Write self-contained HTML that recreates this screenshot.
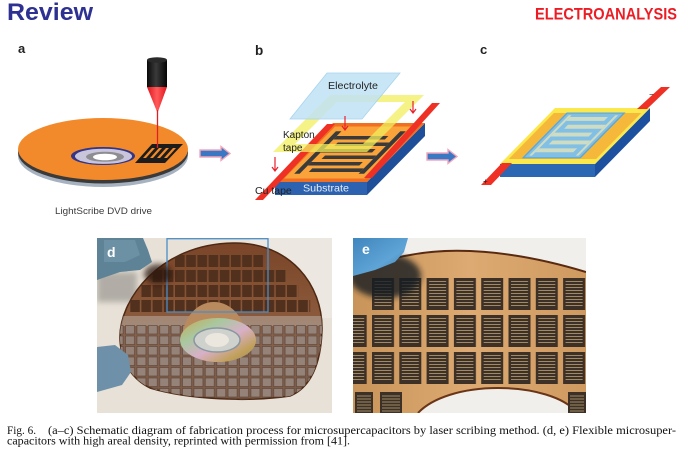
<!DOCTYPE html>
<html><head><meta charset="utf-8"><style>
html,body{margin:0;padding:0;background:#fff;}
svg{display:block;}
</style></head><body>
<svg xmlns="http://www.w3.org/2000/svg" width="680" height="457" viewBox="0 0 680 457">
<defs>
  <linearGradient id="cyl" x1="0" x2="1" y1="0" y2="0">
    <stop offset="0" stop-color="#0a0a0a"/><stop offset="0.45" stop-color="#3a3a3a"/><stop offset="1" stop-color="#050505"/>
  </linearGradient>
  <linearGradient id="cone" x1="0" x2="1">
    <stop offset="0" stop-color="#e0141c"/><stop offset="0.5" stop-color="#ff5a5a"/><stop offset="1" stop-color="#e0141c"/>
  </linearGradient>
  <linearGradient id="sheetD" x1="0" x2="0" y1="0" y2="1">
    <stop offset="0" stop-color="#7a4528"/><stop offset="0.45" stop-color="#8a583a"/><stop offset="0.6" stop-color="#84624f"/><stop offset="1" stop-color="#7a5a48"/>
  </linearGradient>
  <linearGradient id="hub" x1="0" x2="1" y1="0" y2="1">
    <stop offset="0" stop-color="#c8a850"/><stop offset="0.3" stop-color="#a8c8a0"/><stop offset="0.55" stop-color="#d8b0c8"/><stop offset="0.8" stop-color="#c0a058"/><stop offset="1" stop-color="#9a8a70"/>
  </linearGradient>
  <linearGradient id="sheetE" x1="0" x2="1" y1="0" y2="0">
    <stop offset="0" stop-color="#c99459"/><stop offset="0.5" stop-color="#dcaa72"/><stop offset="1" stop-color="#cf9a60"/>
  </linearGradient>
  <linearGradient id="gloveE" x1="0" x2="1" y1="0" y2="1">
    <stop offset="0" stop-color="#3f86bd"/><stop offset="0.6" stop-color="#5fa4d6"/><stop offset="1" stop-color="#3a78a8"/>
  </linearGradient>
  <filter id="blur3" x="-50%" y="-50%" width="200%" height="200%"><feGaussianBlur stdDeviation="3"/></filter>
  <clipPath id="clipD"><rect x="97" y="238" width="235" height="175"/></clipPath>
  <clipPath id="clipE"><rect x="353" y="238" width="233" height="175"/></clipPath>
  <clipPath id="sheetClipD"><path d="M120,340 C118,300 160,244 233,243 C290,242 323,285 322,330 C321,365 310,388 290,396 C250,402 190,400 150,388 C130,378 121,360 120,340 Z"/></clipPath>
  <pattern id="pdU" patternUnits="userSpaceOnUse" x="175" y="255" width="11.2" height="15">
    <rect x="0" y="0" width="9.6" height="12" fill="#52301e"/>
  </pattern>
  <pattern id="pdL" patternUnits="userSpaceOnUse" x="125" y="325" width="11.4" height="10.5">
    <rect x="0.5" y="0.5" width="9" height="8.5" fill="#958278" stroke="#5a4234" stroke-width="0.6"/>
  </pattern>
  <pattern id="peR" patternUnits="userSpaceOnUse" x="344.7" y="278" width="27.3" height="37">
    <rect x="0" y="0" width="22" height="32" fill="#3d3127"/>
    <path d="M2.5 3.5H19.5M2.5 6.5H19.5M2.5 9.5H19.5M2.5 12.5H19.5M2.5 15.5H19.5M2.5 18.5H19.5M2.5 21.5H19.5M2.5 24.5H19.5M2.5 27.5H19.5" stroke="#a08a66" stroke-width="0.9"/>
  </pattern>
</defs>

<!-- Header -->
<text x="7" y="20" font-family="'Liberation Sans', sans-serif" font-weight="bold" font-size="24.5" fill="#2e3192" textLength="86" lengthAdjust="spacingAndGlyphs">Review</text>
<text x="535" y="19.5" font-family="'Liberation Sans', sans-serif" font-weight="bold" font-size="16.5" fill="#ed1c24" textLength="142" lengthAdjust="spacingAndGlyphs">ELECTROANALYSIS</text>

<!-- Panel labels -->
<text x="18" y="53" font-family="'Liberation Sans', sans-serif" font-weight="bold" font-size="13" fill="#222">a</text>
<text x="255" y="55" font-family="'Liberation Sans', sans-serif" font-weight="bold" font-size="13.5" fill="#222">b</text>
<text x="480" y="54" font-family="'Liberation Sans', sans-serif" font-weight="bold" font-size="13" fill="#222">c</text>

<!-- Panel a: disk -->
<ellipse cx="103" cy="156" rx="85" ry="31" fill="#a6b2c0"/>
<ellipse cx="103" cy="152.5" rx="85" ry="31" fill="#3a3a3a"/>
<ellipse cx="103" cy="149" rx="85" ry="31" fill="#f28a2b"/>
<ellipse cx="103" cy="156" rx="32" ry="9" fill="#343488"/>
<ellipse cx="103.5" cy="156.3" rx="28.5" ry="7.6" fill="#c9c6dc"/>
<ellipse cx="105" cy="156.8" rx="19" ry="5" fill="#8e8e92"/>
<ellipse cx="105" cy="157" rx="12" ry="3.3" fill="#ffffff"/>
<polygon points="152,144 183,144 165,163 135,163" fill="#1c1c1c"/>
<g fill="#f28a2b">
  <polygon points="152,148 155,148 146,158 143,158"/>
  <polygon points="159,148 162,148 153,158 150,158"/>
  <polygon points="166,148 169,148 160,158 157,158"/>
  <polygon points="173,148 176,148 167,158 164,158"/>
</g>
<rect x="147" y="60" width="20" height="27" fill="url(#cyl)"/>
<ellipse cx="157" cy="60" rx="10" ry="2.8" fill="#2a2a2a"/>
<polygon points="147,87 167,87 157.5,113" fill="url(#cone)"/>
<line x1="157.5" y1="110" x2="157.5" y2="148" stroke="#e01e26" stroke-width="1.3"/>
<text x="55" y="214" font-family="'Liberation Sans', sans-serif" font-size="9.5" fill="#3a3a3a" textLength="97" lengthAdjust="spacingAndGlyphs">LightScribe DVD drive</text>

<!-- Arrows -->
<polygon points="200,150 221,150 221,146.5 230,153.5 221,160.5 221,157 200,157" fill="#3b78c4" stroke="#f2a6bc" stroke-width="1.4"/>
<polygon points="427,153 448,153 448,149.5 457,156.5 448,163.5 448,160 427,160" fill="#3b78c4" stroke="#f2a6bc" stroke-width="1.4"/>

<!-- Panel b -->
<polygon points="275,182 367,182 367,195 275,195" fill="#2c62b0"/>
<polygon points="367,182 425,123 425,136 367,195" fill="#1f4f98"/>
<g transform="matrix(0.92,0,-0.58,0.59,333,123)">
  <rect x="0" y="0" width="100" height="100" fill="#f26f21"/>
  <rect x="6" y="6" width="88" height="88" fill="#f9a33a"/>
  <g fill="#3a3a3a">
    <rect x="12" y="14" width="6" height="72"/>
    <rect x="18" y="22" width="56" height="6"/>
    <rect x="18" y="44" width="56" height="6"/>
    <rect x="18" y="66" width="56" height="6"/>
    <rect x="82" y="14" width="6" height="72"/>
    <rect x="26" y="33" width="56" height="6"/>
    <rect x="26" y="55" width="56" height="6"/>
    <rect x="26" y="77" width="56" height="6"/>
  </g>
</g>
<polygon points="327,124 335,124 263,200 255,200" fill="#ee3124"/>
<polygon points="432,103 440,103 372,178 364,178" fill="#ee3124"/>
<path d="M330,95 L424,95 L367,152 L273,152 Z M337,102 L405,102 L363,144 L295,144 Z" fill="#f2ee5e" fill-opacity="0.75" fill-rule="evenodd"/>
<polygon points="327,73 400,73 362,119 290,119" fill="#bfe2f4" fill-opacity="0.85" stroke="#a6d4ee" stroke-width="0.8"/>
<text x="328" y="89" font-family="'Liberation Sans', sans-serif" font-size="10.5" fill="#222" textLength="50" lengthAdjust="spacingAndGlyphs">Electrolyte</text>
<text x="283" y="138" font-family="'Liberation Sans', sans-serif" font-size="10" fill="#222">Kapton</text>
<text x="283" y="151" font-family="'Liberation Sans', sans-serif" font-size="10" fill="#222">tape</text>
<text x="255" y="194" font-family="'Liberation Sans', sans-serif" font-size="10.5" fill="#222">Cu tape</text>
<text x="303" y="191.5" font-family="'Liberation Sans', sans-serif" font-size="10.5" fill="#e6eef8" textLength="46" lengthAdjust="spacingAndGlyphs">Substrate</text>
<g stroke="#e8202a" stroke-width="1.2" fill="none">
  <path d="M345,116 V130 M342,126 L345,130 L348,126"/>
  <path d="M413,101 V113 M410,109 L413,113 L416,109"/>
  <path d="M275,157 V171 M272,167 L275,171 L278,167"/>
</g>

<!-- Panel c -->
<polygon points="500,164 595,164 595,177 500,177" fill="#2b67b3"/>
<polygon points="595,164 650,108 650,121 595,177" fill="#1d51a0"/>
<g transform="matrix(0.95,0,-0.55,0.56,555,108)">
  <rect x="0" y="0" width="100" height="100" fill="#fbe84c"/>
  <rect x="4" y="9" width="92" height="82" fill="#f6b83a"/>
  <rect x="17" y="8" width="62" height="82" fill="#5da6d8"/>
  <rect x="19" y="10" width="58" height="78" fill="#82bfe4"/>
  <g fill="#cfdcc4">
    <rect x="22" y="13" width="3" height="72"/>
    <rect x="71" y="13" width="3" height="72"/>
    <rect x="25" y="16" width="40" height="7"/>
    <rect x="25" y="44" width="40" height="7"/>
    <rect x="25" y="72" width="40" height="7"/>
    <rect x="31" y="30" width="40" height="7"/>
    <rect x="31" y="58" width="40" height="7"/>
  </g>
</g>
<polygon points="637,109 647,109 670,87 661,87" fill="#ee3124"/>
<polygon points="502,163 512,163 491,185 481,185" fill="#ee3124"/>
<text x="483" y="184" font-family="'Liberation Sans', sans-serif" font-size="8" fill="#222">+</text>
<text x="649" y="97" font-family="'Liberation Sans', sans-serif" font-size="8" fill="#222">−</text>

<!-- Photo d -->
<g clip-path="url(#clipD)">
  <rect x="97" y="238" width="235" height="175" fill="#e7e1d7"/>
  <rect x="250" y="238" width="82" height="80" fill="#ece8e1"/>
  <rect x="97" y="272" width="40" height="30" fill="#8e8c86" opacity="0.6" filter="url(#blur3)"/>
  <path d="M120,340 C118,300 160,244 233,243 C290,242 323,285 322,330 C321,365 310,388 290,396 C250,402 190,400 150,388 C130,378 121,360 120,340 Z" fill="url(#sheetD)" stroke="#4e2812" stroke-width="1.5"/>
  <g clip-path="url(#sheetClipD)">
    <rect x="175" y="255" width="89.6" height="13" fill="url(#pdU)"/>
    <rect x="152.6" y="270" width="134.4" height="13" fill="url(#pdU)"/>
    <rect x="141.4" y="285" width="156.8" height="13" fill="url(#pdU)"/>
    <rect x="130.2" y="300" width="180" height="13" fill="url(#pdU)"/>
    <rect x="115" y="316" width="212" height="10" fill="#bdb4aa" opacity="0.5"/>
    <rect x="118" y="325" width="208" height="75" fill="url(#pdL)"/>
    <path d="M182,340 A32,38 0 0 1 246,340 Z" fill="#b98a5e"/>
  </g>
  <ellipse cx="218" cy="340" rx="38" ry="22" fill="url(#hub)"/>
  <ellipse cx="217" cy="340" rx="23" ry="12" fill="#cfd2cc" stroke="#8a96a0" stroke-width="1.5"/>
  <ellipse cx="217" cy="340" rx="12" ry="7" fill="#ebe7de"/>
  <rect x="167" y="238.7" width="101" height="73.3" fill="none" stroke="#4a8ec8" stroke-width="1.3"/>
  <ellipse cx="158" cy="274" rx="14" ry="10" fill="#2a160c" opacity="0.75" filter="url(#blur3)"/>
  <polygon points="97,238 143,238 148,250 152,262 140,270 120,272 97,280" fill="#5e8296"/>
  <polygon points="104,240 135,240 140,255 125,262 104,262" fill="#7296aa" opacity="0.7"/>
  <polygon points="97,347 115,345 128,355 131,372 122,385 97,392" fill="#6e90a8"/>
  <text x="107" y="257" font-family="'Liberation Sans', sans-serif" font-weight="bold" font-size="14" fill="#ffffff">d</text>
</g>

<!-- Photo e -->
<g clip-path="url(#clipE)">
  <rect x="353" y="238" width="233" height="175" fill="#f1efec"/>
  <path d="M353,270 C370,266 390,258 410,255 C450,247 510,249 586,272 L586,413 L577,413 C565,397 532,388 498,388 C462,388 432,398 418,413 L353,413 Z" fill="url(#sheetE)"/>
  <path d="M353,270 C370,266 390,258 410,255 C450,247 510,249 586,272" fill="none" stroke="#5a2a10" stroke-width="2"/>
  <path d="M577,413 C565,397 532,388 498,388 C462,388 432,398 418,413" fill="none" stroke="#6a3416" stroke-width="2"/>
  <rect x="372" y="278" width="214" height="33" fill="url(#peR)"/>
  <rect x="353" y="315" width="233" height="70" fill="url(#peR)"/>
  <rect x="355" y="392" width="18" height="21" fill="#3d3127"/>
  <rect x="380" y="392" width="22" height="21" fill="#3d3127"/>
  <rect x="568" y="392" width="18" height="21" fill="#3d3127"/>
  <g stroke="#a08a66" stroke-width="0.9">
    <path d="M357 396H371M357 399H371M357 402H371M357 405H371M357 408H371M357 411H371"/>
    <path d="M382 396H400M382 399H400M382 402H400M382 405H400M382 408H400M382 411H400"/>
    <path d="M570 396H584M570 399H584M570 402H584M570 405H584M570 408H584M570 411H584"/>
  </g>
  <ellipse cx="385" cy="276" rx="36" ry="22" fill="#141a20" opacity="0.8" filter="url(#blur3)"/>
  <polygon points="353,238 408,238 404,252 395,262 375,270 353,276" fill="url(#gloveE)"/>
  <text x="362" y="254" font-family="'Liberation Sans', sans-serif" font-weight="bold" font-size="14" fill="#ffffff">e</text>
</g>

<!-- Caption -->
<text x="7" y="434" font-family="'Liberation Serif', serif" font-size="11.5" fill="#111" textLength="29" lengthAdjust="spacingAndGlyphs">Fig. 6.</text>
<text x="48" y="434" font-family="'Liberation Serif', serif" font-size="11.5" fill="#111" textLength="628" lengthAdjust="spacingAndGlyphs">(a–c) Schematic diagram of fabrication process for microsupercapacitors by laser scribing method. (d, e) Flexible microsuper-</text>
<text x="7" y="444.5" font-family="'Liberation Serif', serif" font-size="11.5" fill="#111" textLength="343" lengthAdjust="spacingAndGlyphs">capacitors with high areal density, reprinted with permission from [41].</text>
</svg>
</body></html>
